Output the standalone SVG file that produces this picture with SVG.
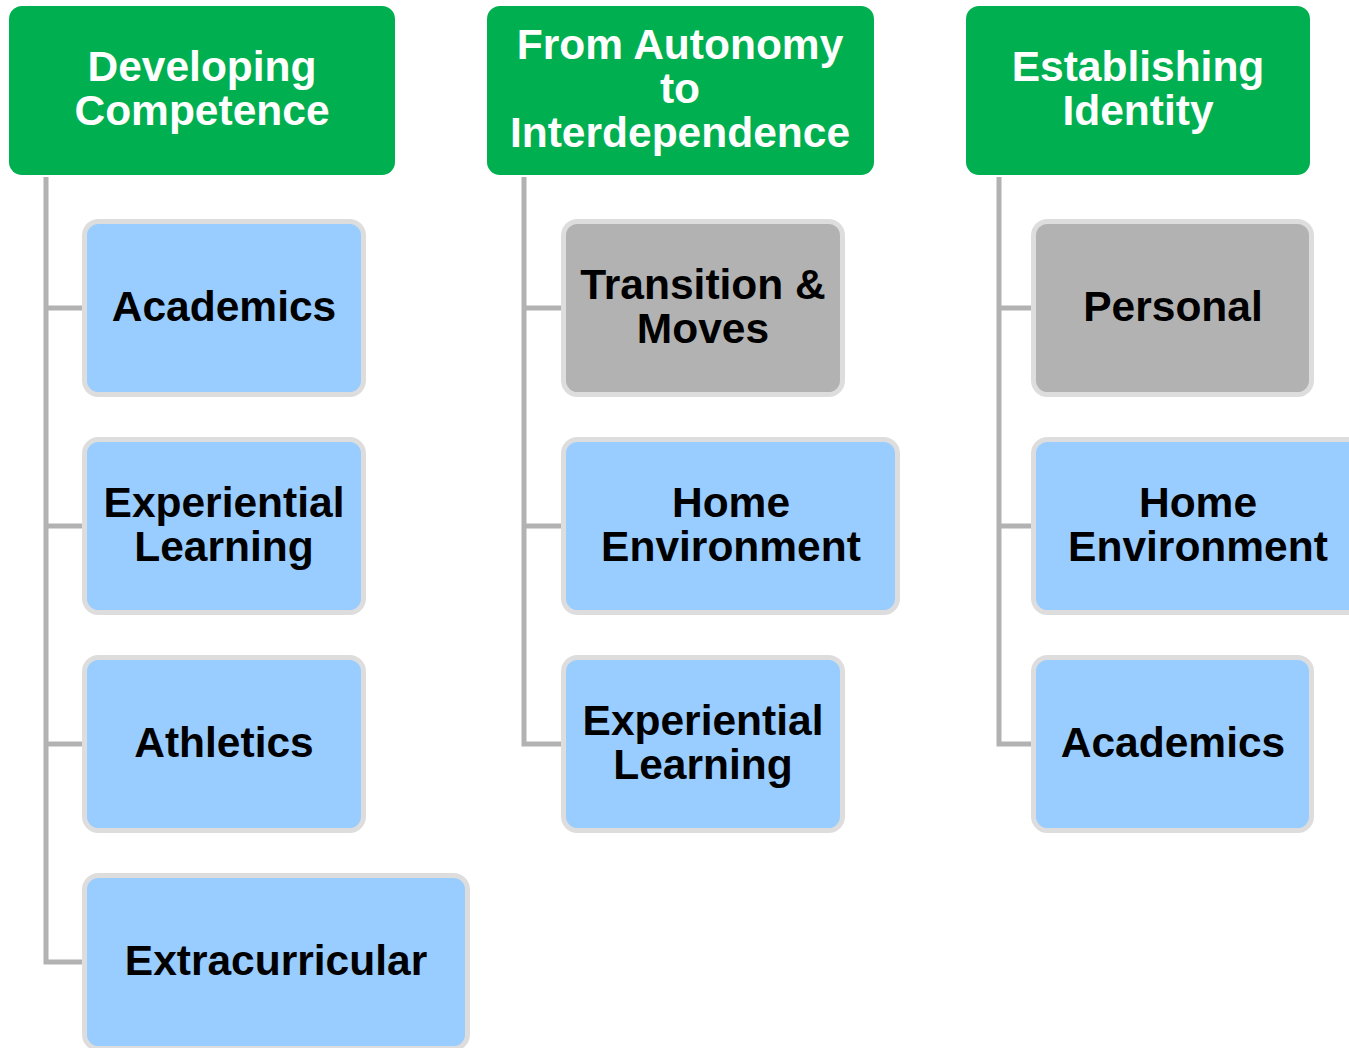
<svg xmlns="http://www.w3.org/2000/svg" width="1349" height="1048" viewBox="0 0 1349 1048">
<style>
.hdr{fill:#00B050}
.ht{fill:#FFFFFF;font-family:"Liberation Sans",Arial,sans-serif;font-weight:bold;font-size:42.5px;text-anchor:middle}
.ch{fill:#99CCFF;stroke:#DDDDDD;stroke-width:5}
.gr{fill:#B2B2B2;stroke:#DDDDDD;stroke-width:5}
.ct{fill:#000000;font-family:"Liberation Sans",Arial,sans-serif;font-weight:bold;font-size:42.5px;text-anchor:middle}
.con{fill:none;stroke:#B2B2B2;stroke-width:5}
</style>
<rect width="1349" height="1048" fill="#FFFFFF"/>
<g id="connectors">
<path class="con" d="M46 177 V962 H84 M46 308 H84 M46 526 H84 M46 744 H84"/>
<path class="con" d="M524 177 V744 H563 M524 308 H563 M524 526 H563"/>
<path class="con" d="M999 177 V744 H1033 M999 308 H1033 M999 526 H1033"/>
</g>
<g id="h1"><rect class="hdr" x="9" y="6" width="386" height="169" rx="13"/><text class="ht" x="202" y="81">Developing</text><text class="ht" x="202" y="125">Competence</text></g>
<g id="h2"><rect class="hdr" x="487" y="6" width="387" height="169" rx="13"/><text class="ht" x="680" y="59">From Autonomy</text><text class="ht" x="680" y="103">to</text><text class="ht" x="680" y="147">Interdependence</text></g>
<g id="h3"><rect class="hdr" x="966" y="6" width="344" height="169" rx="13"/><text class="ht" x="1138" y="81">Establishing</text><text class="ht" x="1138" y="125">Identity</text></g>

<g id="c1a"><rect class="ch" x="84.5" y="221.5" width="279" height="173" rx="14"/><text class="ct" x="224" y="321">Academics</text></g>
<g id="c1b"><rect class="ch" x="84.5" y="439.5" width="279" height="173" rx="14"/><text class="ct" x="224" y="517">Experiential</text><text class="ct" x="224" y="561">Learning</text></g>
<g id="c1c"><rect class="ch" x="84.5" y="657.5" width="279" height="173" rx="14"/><text class="ct" x="224" y="757">Athletics</text></g>
<g id="c1d"><rect class="ch" x="84.5" y="875.5" width="383" height="173" rx="14"/><text class="ct" x="276" y="975">Extracurricular</text></g>

<g id="c2a"><rect class="gr" x="563.5" y="221.5" width="279" height="173" rx="14"/><text class="ct" x="703" y="299">Transition &amp;</text><text class="ct" x="703" y="343">Moves</text></g>
<g id="c2b"><rect class="ch" x="563.5" y="439.5" width="334" height="173" rx="14"/><text class="ct" x="731" y="517">Home</text><text class="ct" x="731" y="561">Environment</text></g>
<g id="c2c"><rect class="ch" x="563.5" y="657.5" width="279" height="173" rx="14"/><text class="ct" x="703" y="735">Experiential</text><text class="ct" x="703" y="779">Learning</text></g>

<g id="c3a"><rect class="gr" x="1033.5" y="221.5" width="278" height="173" rx="14"/><text class="ct" x="1173" y="321">Personal</text></g>
<g id="c3b"><rect class="ch" x="1033.5" y="439.5" width="330" height="173" rx="14"/><text class="ct" x="1198" y="517">Home</text><text class="ct" x="1198" y="561">Environment</text></g>
<g id="c3c"><rect class="ch" x="1033.5" y="657.5" width="278" height="173" rx="14"/><text class="ct" x="1173" y="757">Academics</text></g>
</svg>
